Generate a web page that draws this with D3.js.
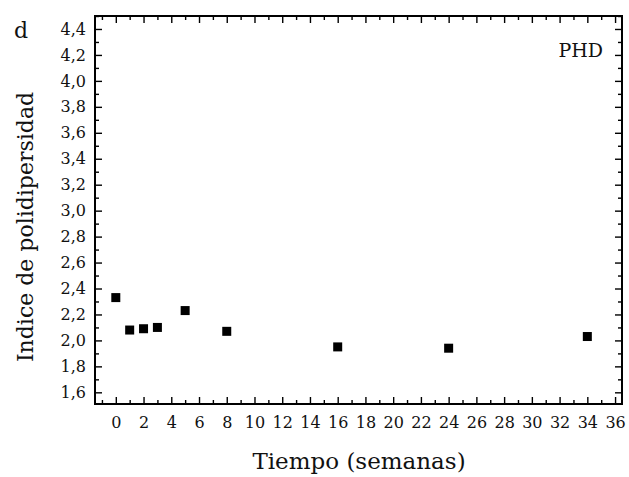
<!DOCTYPE html>
<html>
<head>
<meta charset="utf-8">
<script src="https://cdn.jsdelivr.net/npm/d3@7"></script>
<style>
  html, body { margin: 0; padding: 0; background: #fff; }
  svg { display: block; font-family: "DejaVu Serif", serif; }
</style>
</head>
<body>
<div id="chart"></div>
<script>
// PDI over time (weeks)
const weeks = [0, 1, 2, 3, 5, 8, 16, 24, 34];
const pdi = [2.33, 2.08, 2.09, 2.10, 2.23, 2.07, 1.95, 1.94, 2.03];

const xMajorTicks = d3.range(0, 37, 2);
const xMinorTicks = d3.range(-1, 37, 2);
const yMajorTicks = d3.range(16, 45, 2).map(d => d / 10);
const yMinorTicks = d3.range(17, 46, 2).map(d => d / 10);

const width = 629;
const height = 477;
const margin = { top: 16, right: 7, bottom: 73, left: 95 };
const innerWidth = width - margin.left - margin.right;
const innerHeight = height - margin.top - margin.bottom;

const svg = d3.select('#chart')
  .append('svg')
  .attr('width', width)
  .attr('height', height);

const g = svg.append('g')
  .attr('transform', `translate(${margin.left},${margin.top})`);

const x = d3.scaleLinear().domain([-1.5, 36.5]).range([0, innerWidth]);
const y = d3.scaleLinear().domain([1.51, 4.5]).range([innerHeight, 0]);

const fmtY = d => d3.format('.1f')(d).replace('.', ',');

function styleAxis(sel, fontSize) {
  sel.select('.domain').remove();
  sel.selectAll('line').attr('stroke', '#000').attr('stroke-width', 1.4);
  sel.selectAll('text')
    .attr('fill', '#111')
    .style('font-size', fontSize + 'px')
    .style('font-family', '"DejaVu Serif", serif');
}

// bottom axis
g.append('g')
  .attr('transform', `translate(0,${innerHeight})`)
  .call(d3.axisBottom(x).tickValues(xMinorTicks).tickSize(-4).tickFormat(''))
  .call(s => styleAxis(s, 16));
g.append('g')
  .attr('transform', `translate(0,${innerHeight})`)
  .call(d3.axisBottom(x).tickValues(xMajorTicks).tickSize(-7).tickPadding(13).tickFormat(d3.format('d')))
  .call(s => styleAxis(s, 16));

// top axis
g.append('g')
  .call(d3.axisTop(x).tickValues(xMinorTicks).tickSize(-4).tickFormat(''))
  .call(s => styleAxis(s, 16));
g.append('g')
  .call(d3.axisTop(x).tickValues(xMajorTicks).tickSize(-7).tickFormat(''))
  .call(s => styleAxis(s, 16));

// left axis
g.append('g')
  .call(d3.axisLeft(y).tickValues(yMinorTicks).tickSize(-4).tickFormat(''))
  .call(s => styleAxis(s, 16));
g.append('g')
  .call(d3.axisLeft(y).tickValues(yMajorTicks).tickSize(-7).tickPadding(9).tickFormat(fmtY))
  .call(s => styleAxis(s, 16));

// right axis
g.append('g')
  .attr('transform', `translate(${innerWidth},0)`)
  .call(d3.axisRight(y).tickValues(yMinorTicks).tickSize(-4).tickFormat(''))
  .call(s => styleAxis(s, 16));
g.append('g')
  .attr('transform', `translate(${innerWidth},0)`)
  .call(d3.axisRight(y).tickValues(yMajorTicks).tickSize(-7).tickFormat(''))
  .call(s => styleAxis(s, 16));

// frame
g.append('rect')
  .attr('x', 0)
  .attr('y', 0)
  .attr('width', innerWidth)
  .attr('height', innerHeight)
  .attr('fill', 'none')
  .attr('stroke', '#000')
  .attr('stroke-width', 2);

// points
const size = 9;
g.selectAll('.pt')
  .data(weeks.map((w, i) => ({ w, v: pdi[i] })))
  .enter()
  .append('rect')
  .attr('class', 'pt')
  .attr('x', d => x(d.w) - size / 2)
  .attr('y', d => y(d.v) - size / 2)
  .attr('width', size)
  .attr('height', size)
  .attr('fill', '#000');

// labels
svg.append('text')
  .attr('x', 359)
  .attr('y', 469)
  .attr('text-anchor', 'middle')
  .attr('font-size', 23)
  .attr('fill', '#111')
  .text('Tiempo (semanas)');

svg.append('text')
  .attr('transform', 'translate(33,227) rotate(-90)')
  .attr('text-anchor', 'middle')
  .attr('font-size', 22)
  .attr('fill', '#111')
  .text('Indice de polidipersidad');

svg.append('text')
  .attr('x', 14)
  .attr('y', 38)
  .attr('font-size', 22)
  .attr('fill', '#111')
  .text('d');

svg.append('text')
  .attr('x', 603)
  .attr('y', 57)
  .attr('text-anchor', 'end')
  .attr('font-size', 19)
  .attr('fill', '#111')
  .text('PHD');
</script>
</body>
</html>
